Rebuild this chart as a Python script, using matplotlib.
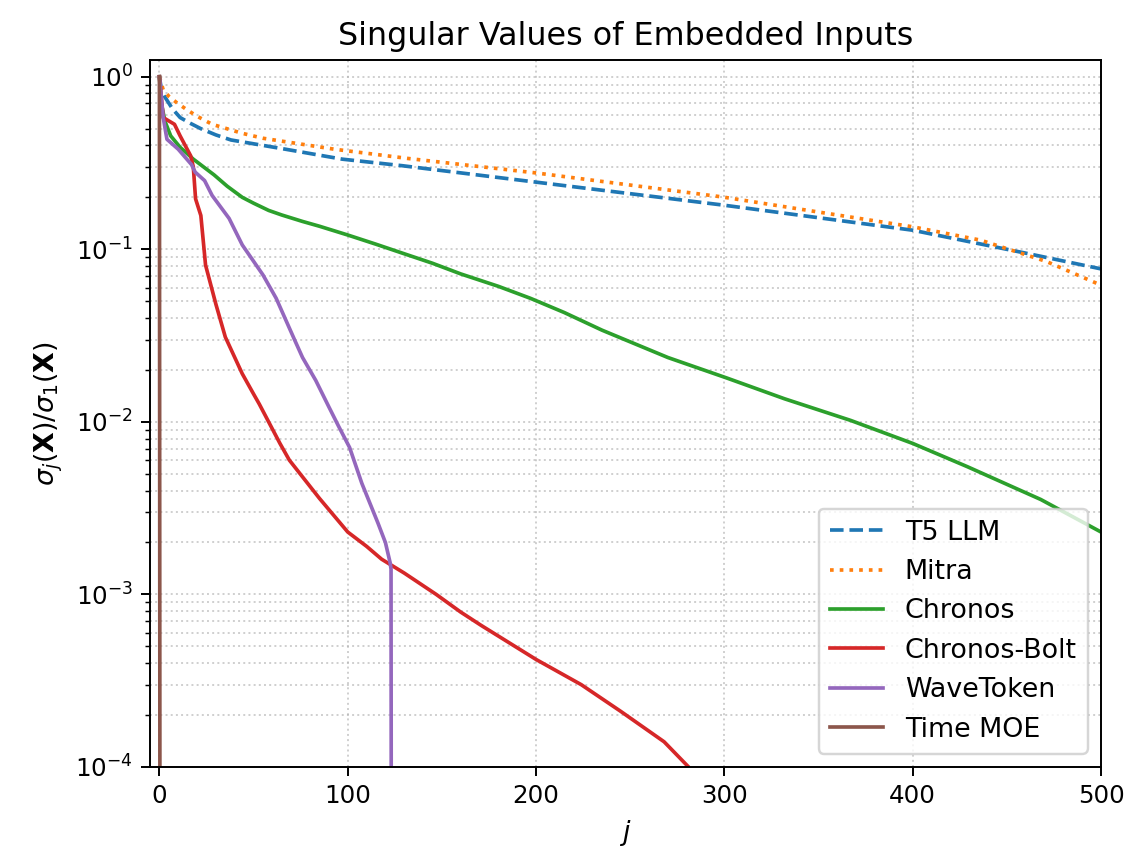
import numpy as np
import matplotlib
matplotlib.use("Agg")
import matplotlib.pyplot as plt

# values (index j, normalised singular value)
t5_j = [0, 1, 3, 7, 11, 16, 22, 30, 38, 55, 67, 97, 129, 200, 300, 400, 460, 500]
t5_s = [1.0, 0.85, 0.76, 0.65, 0.58, 0.54, 0.50, 0.46, 0.43, 0.40, 0.38, 0.333, 0.305, 0.245, 0.180,
        0.129, 0.095, 0.077]

mitra_j = [0, 2, 5, 9, 14, 20, 28, 44, 55, 93, 132, 200, 299, 400, 436, 471, 497, 500]
mitra_s = [1.0, 0.84, 0.77, 0.71, 0.65, 0.59, 0.53, 0.47, 0.44, 0.38, 0.336, 0.277, 0.201, 0.135,
           0.113, 0.085, 0.064, 0.062]

chronos_j = [0, 1, 3, 6, 11, 18, 29, 36, 44, 50, 58, 65, 76, 85, 100, 115, 129, 145, 160, 180, 197,
             215, 235, 270, 301, 332, 367, 400, 429, 468, 500]
chronos_s = [1.0, 0.7, 0.55, 0.454, 0.39, 0.333, 0.27, 0.232, 0.2, 0.185, 0.168, 0.158, 0.145, 0.136,
             0.121, 0.107, 0.095, 0.083, 0.072, 0.061, 0.052, 0.043, 0.034, 0.0236, 0.018, 0.0136,
             0.0102, 0.0075, 0.0055, 0.00355, 0.0023]

bolt_j = [0, 2, 8, 11, 16.6, 18, 19.2, 22, 24.5, 30, 35, 44, 50, 53, 64, 69, 85, 100, 110, 118, 130,
          147, 160, 171, 200, 224, 245, 268, 281, 286]
bolt_s = [1.0, 0.58, 0.53, 0.454, 0.348, 0.30, 0.196, 0.157, 0.081, 0.048, 0.031, 0.019, 0.0145,
          0.0127, 0.0075, 0.006, 0.0036, 0.0023, 0.0019, 0.0016, 0.00133, 0.001, 0.00079, 0.00066,
          0.00042, 0.0003, 0.00021, 0.00014, 0.0001, 0.00008]

wave_j = [0, 2, 4, 10, 17, 19, 24, 28, 37, 44, 55, 62, 72, 76, 83, 90, 95, 101, 107.5, 116, 120,
          122.5, 123, 124]
wave_s = [1.0, 0.58, 0.434, 0.38, 0.31, 0.28, 0.25, 0.205, 0.151, 0.106, 0.071, 0.052, 0.0295, 0.0236,
          0.0174, 0.0122, 0.0095, 0.0071, 0.0044, 0.0026, 0.002, 0.00153, 0.0014, 1e-16]

moe_j = [0, 1]
moe_s = [1.0, 1e-16]

fig = plt.figure(figsize=(1129 / 176, 853 / 176), dpi=176)
ax = fig.add_subplot(111)
fig.subplots_adjust(left=150 / 1129, right=1101 / 1129, top=1 - 60 / 853, bottom=1 - 767 / 853)

ax.plot(t5_j, t5_s, linestyle="--", label="T5 LLM")
ax.plot(mitra_j, mitra_s, linestyle=":", label="Mitra")
ax.plot(chronos_j, chronos_s, label="Chronos")
ax.plot(bolt_j, bolt_s, label="Chronos-Bolt")
ax.plot(wave_j, wave_s, label="WaveToken")
ax.plot(moe_j, moe_s, label="Time MOE")

ax.set_yscale("log")
ax.set_xlim(-5, 500)
ax.set_ylim(1e-4, 1.25)
ax.grid(True, which="both", linestyle=":", alpha=0.6)

ax.set_xlabel(r"$j$", fontsize=11)
ax.set_ylabel(r"$\sigma_j(\mathbf{X})/\sigma_1(\mathbf{X})$", fontsize=11)
ax.set_title("Singular Values of Embedded Inputs", fontsize=13)
ax.legend(loc="lower right", fontsize=11)

fig.savefig("out.png", dpi=176)
